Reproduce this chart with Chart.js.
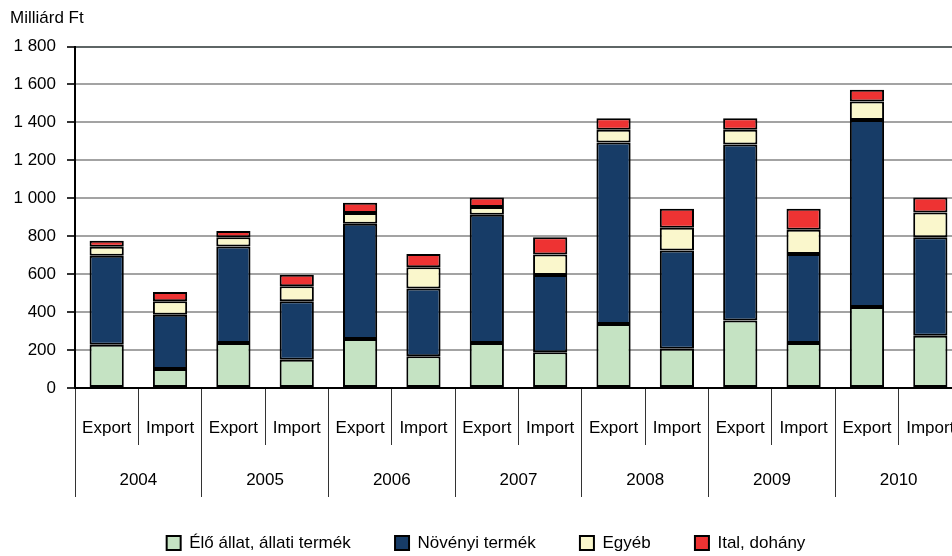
<!DOCTYPE html>
<html>
<head>
<meta charset="utf-8">
<script src="https://cdn.jsdelivr.net/npm/chart.js@4.4.1/dist/chart.umd.min.js"></script>
<style>
  html, body { margin: 0; padding: 0; background: #fff; overflow: hidden; }
  #wrap { width: 970px; height: 556px; }
</style>
</head>
<body>
<div id="wrap"><canvas id="chart"></canvas></div>
<script>
// Agrárkereskedelem, Milliárd Ft
const years = ['2004', '2005', '2006', '2007', '2008', '2009', '2010'];
const flows = ['Export', 'Import'];
const yTicks = [0, 200, 400, 600, 800, 1000, 1200, 1400, 1600, 1800];

// values per bar: Export 2004, Import 2004, Export 2005, ...
const eloAllat = [228, 100, 237, 149, 258, 167, 237, 188, 337, 207, 356, 237, 427, 276];
const novenyi  = [469, 286, 509, 308, 608, 358, 676, 407, 957, 518, 928, 469, 985, 519];
const egyeb    = [48, 71, 48, 79, 56, 111, 41, 109, 67, 120, 77, 128, 98, 130];
const italDohany = [31, 49, 33, 61, 54, 70, 50, 91, 61, 100, 61, 111, 62, 79];

const labels = [];
years.forEach(() => flows.forEach(f => labels.push(f)));

// narrow font if we have it, otherwise regular sans a bit smaller
const probe = document.createElement('canvas').getContext('2d');
probe.font = '19px "Liberation Sans Narrow", monospace';
const wNarrow = probe.measureText('Import Export 2004').width;
probe.font = '19px "Liberation Sans", monospace';
const wReg = probe.measureText('Import Export 2004').width;
const hasNarrow = wNarrow < wReg * 0.9;
const family = hasNarrow ? '"Liberation Sans Narrow", "Liberation Sans", Arial, sans-serif'
                         : '"Liberation Sans", Arial, sans-serif';
const fs = hasNarrow ? 19 : 17;
const lh = fs * 1.2;

Chart.defaults.font.family = family;
Chart.defaults.font.size = fs;
Chart.defaults.color = '#000';

// x axis rows (pixel targets from the reference)
const axisTop = 388;
const row1Tick = 57, row1Mid = 428;
const row1Pad = row1Mid - axisTop - row1Tick - lh / 2;
const row1H = row1Tick + row1Pad + lh;
const row2Top = axisTop + row1H;
const row2Tick = 497 - row2Top, row2Mid = 480;
const row2Pad = row2Mid - row2Top - row2Tick - lh / 2;
const row2H = row2Tick + row2Pad + lh;
const legendH = 556 - row2Top - row2H;

function fmt(v) {
  if (v >= 1000) return Math.floor(v / 1000) + ' ' + String(v % 1000).padStart(3, '0');
  return String(v);
}

function ds(label, data, color) {
  return {
    label: label,
    data: data,
    backgroundColor: color,
    borderColor: '#000',
    borderWidth: 2,
    borderSkipped: false,
    barPercentage: 0.54,
    categoryPercentage: 1
  };
}

new Chart(document.getElementById('chart'), {
  type: 'bar',
  data: {
    labels: labels,
    datasets: [
      ds('Élő állat, állati termék', eloAllat, '#c5e3c3'),
      ds('Növényi termék', novenyi, '#173c67'),
      ds('Egyéb', egyeb, '#faf7cc'),
      ds('Ital, dohány', italDohany, '#ee3333')
    ]
  },
  options: {
    responsive: true,
    maintainAspectRatio: false,
    animation: false,
    layout: { padding: { left: 10, right: 8, top: 0, bottom: 0 } },
    plugins: {
      tooltip: { enabled: false },
      title: {
        display: true,
        text: 'Milliárd Ft',
        align: 'start',
        color: '#000',
        font: { size: fs, weight: 'normal' },
        padding: { top: 18 - lh / 2, bottom: 46.5 - (18 + lh / 2) }
      },
      legend: {
        position: 'bottom',
        maxHeight: legendH,
        labels: {
          boxWidth: 14,
          boxHeight: 14,
          padding: 543 - 556 + legendH - fs / 2,
          color: '#000',
          font: { size: fs }
        }
      }
    },
    scales: {
      x: {
        stacked: true,
        offset: true,
        afterFit: s => { s.height = row1H; },
        grid: { offset: true, drawOnChartArea: false, tickLength: row1Tick, color: '#333', lineWidth: 1 },
        border: { color: '#000', width: 2 },
        ticks: { padding: row1Pad, maxRotation: 0, autoSkip: false, color: '#000' }
      },
      x2: {
        type: 'category',
        labels: years,
        position: 'bottom',
        offset: true,
        afterFit: s => { s.height = row2H; },
        grid: { offset: true, drawOnChartArea: false, tickLength: row2Tick, color: '#333', lineWidth: 1 },
        border: { display: false },
        ticks: { padding: row2Pad, maxRotation: 0, autoSkip: false, color: '#000' }
      },
      y: {
        stacked: true,
        min: 0,
        max: 1800,
        afterBuildTicks: scale => { scale.ticks = yTicks.map(v => ({ value: v })); },
        afterFit: scale => { scale.width = 65; },
        grid: {
          color: c => (c.tick && c.tick.value === 1800) ? '#5e6565' : '#a3a3a3',
          lineWidth: 2,
          tickLength: 8,
          tickColor: '#333'
        },
        border: { color: '#000', width: 2 },
        ticks: { padding: 11, color: '#000', callback: v => fmt(v) }
      }
    }
  }
});
</script>
</body>
</html>
